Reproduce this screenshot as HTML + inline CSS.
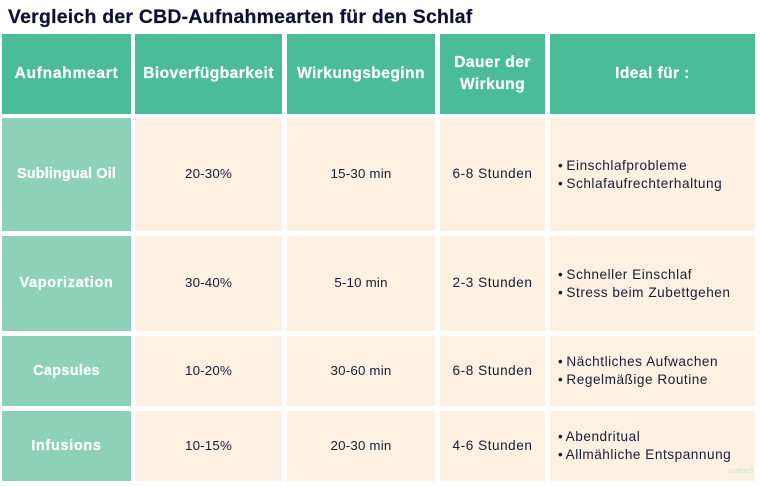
<!DOCTYPE html>
<html lang="de">
<head>
<meta charset="utf-8">
<title>Vergleich der CBD-Aufnahmearten für den Schlaf</title>
<style>
html,body{margin:0;padding:0;background:#fff;}
#page{position:relative;width:760px;height:487px;overflow:hidden;background:#fff;font-family:"Liberation Sans",sans-serif;}
.t{position:absolute;left:8px;top:5px;font-size:19.4px;line-height:24px;font-weight:700;letter-spacing:.26px;color:#0d1033;white-space:nowrap;-webkit-text-stroke:.2px #0d1033;}
.c{position:absolute;display:flex;align-items:center;justify-content:center;text-align:center;box-sizing:border-box;white-space:nowrap;}
.h{background:#4abd98;color:#fff;font-weight:700;font-size:15.6px;line-height:22px;letter-spacing:.42px;-webkit-text-stroke:.2px #fff;}
.r{background:#8dd1b9;color:#fff;font-weight:700;font-size:14.4px;letter-spacing:.36px;padding-bottom:1px;-webkit-text-stroke:.2px #fff;}
.d{background:#fef1e2;color:#1a1c33;font-size:13.3px;letter-spacing:.2px;padding-bottom:2px;}
.w{font-size:13.6px;letter-spacing:.53px;}
.l{justify-content:flex-start;text-align:left;padding:0 0 0 8px;line-height:18px;}
.b{margin-right:-1.2px;}
.wm{position:absolute;left:728px;top:465px;font-size:8.5px;line-height:10px;color:#c4e6da;}
</style>
</head>
<body>
<div id="page">
<div class="t">Vergleich der CBD-Aufnahmearten für den Schlaf</div>

<div class="c h" style="left:2px;top:34px;width:129px;height:80px;letter-spacing:.7px">Aufnahmeart</div>
<div class="c h" style="left:135px;top:34px;width:147px;height:80px">Bioverfügbarkeit</div>
<div class="c h" style="left:287px;top:34px;width:148px;height:80px">Wirkungsbeginn</div>
<div class="c h" style="left:440px;top:34px;width:105px;height:80px">Dauer der<br>Wirkung</div>
<div class="c h" style="left:550px;top:34px;width:205px;height:80px">Ideal für :</div>

<div class="c r" style="left:2px;top:118px;width:129px;height:113px;letter-spacing:.16px">Sublingual Oil</div>
<div class="c d" style="left:135px;top:118px;width:147px;height:113px">20-30%</div>
<div class="c d" style="left:287px;top:118px;width:148px;height:113px">15-30 min</div>
<div class="c d w" style="left:440px;top:118px;width:105px;height:113px">6-8 Stunden</div>
<div class="c d w l" style="left:550px;top:118px;width:205px;height:113px"><div><span class="b">•</span> Einschlafprobleme<br><span class="b">•</span> Schlafaufrechterhaltung</div></div>

<div class="c r" style="left:2px;top:236px;width:129px;height:95px;letter-spacing:.7px">Vaporization</div>
<div class="c d" style="left:135px;top:236px;width:147px;height:95px">30-40%</div>
<div class="c d" style="left:287px;top:236px;width:148px;height:95px">5-10 min</div>
<div class="c d w" style="left:440px;top:236px;width:105px;height:95px">2-3 Stunden</div>
<div class="c d w l" style="left:550px;top:236px;width:205px;height:95px"><div><span class="b">•</span> Schneller Einschlaf<br><span class="b">•</span> Stress beim Zubettgehen</div></div>

<div class="c r" style="left:2px;top:336px;width:129px;height:70px">Capsules</div>
<div class="c d" style="left:135px;top:336px;width:147px;height:70px">10-20%</div>
<div class="c d" style="left:287px;top:336px;width:148px;height:70px">30-60 min</div>
<div class="c d w" style="left:440px;top:336px;width:105px;height:70px">6-8 Stunden</div>
<div class="c d w l" style="left:550px;top:336px;width:205px;height:70px"><div><span class="b">•</span> Nächtliches Aufwachen<br><span class="b">•</span> Regelmäßige Routine</div></div>

<div class="c r" style="left:2px;top:411px;width:129px;height:70px;letter-spacing:.7px">Infusions</div>
<div class="c d" style="left:135px;top:411px;width:147px;height:70px">10-15%</div>
<div class="c d" style="left:287px;top:411px;width:148px;height:70px">20-30 min</div>
<div class="c d w" style="left:440px;top:411px;width:105px;height:70px">4-6 Stunden</div>
<div class="c d w l" style="left:550px;top:411px;width:205px;height:70px"><div><span class="b">•</span> Abendritual<br><span class="b">•</span> Allmähliche Entspannung</div></div>

<div class="wm">uweed</div>
</div>
</body>
</html>
